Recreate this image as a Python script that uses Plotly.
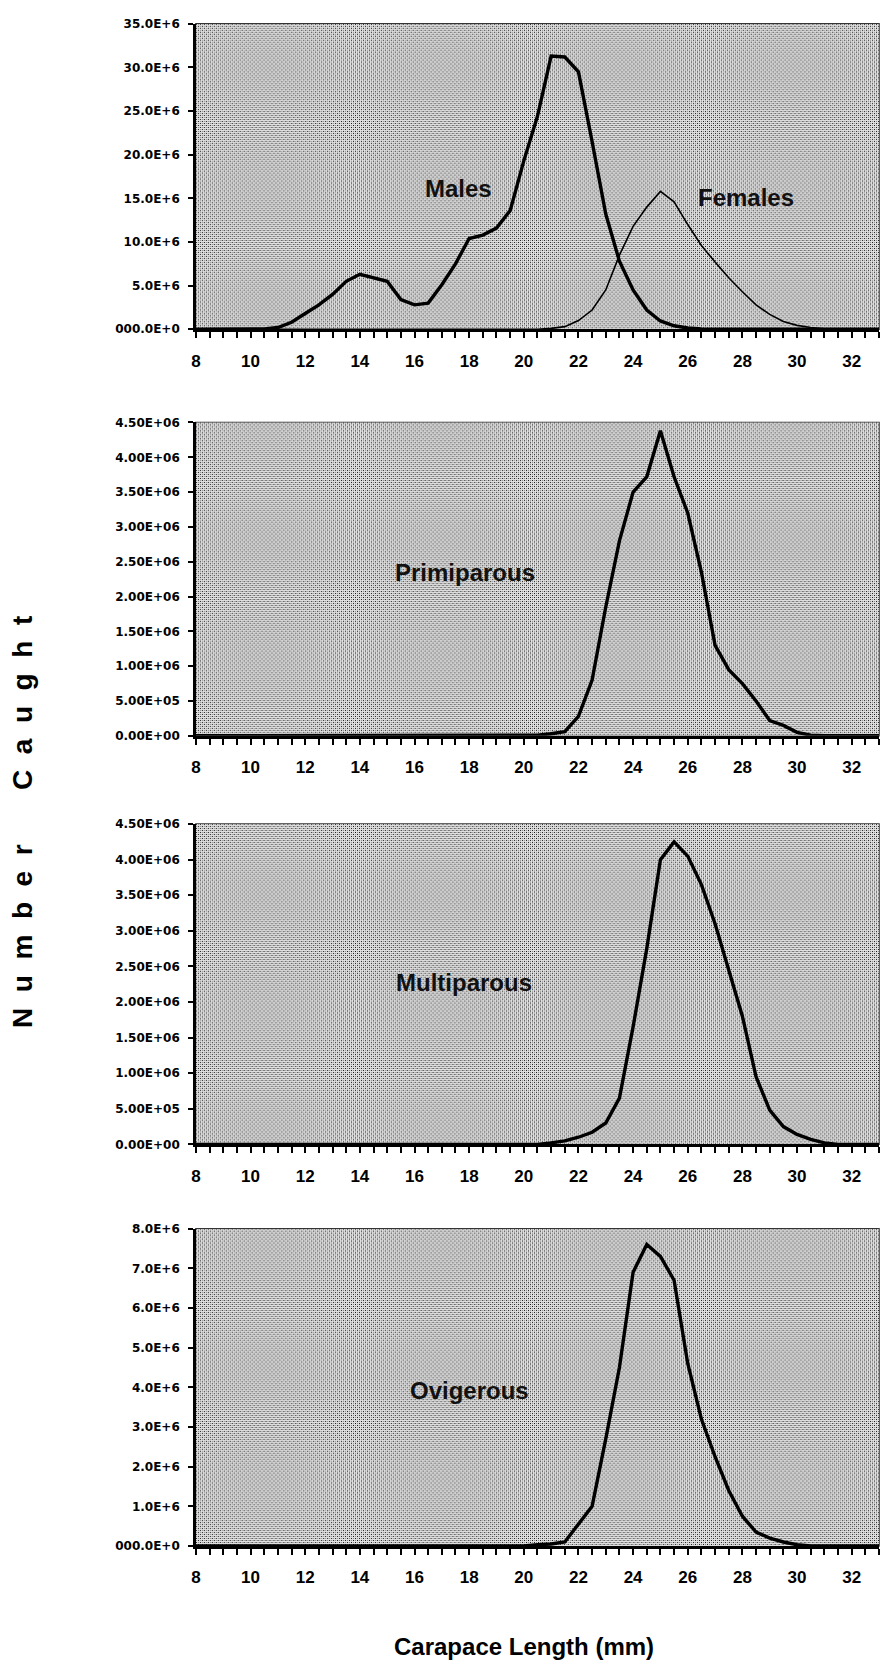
import base64
import plotly.graph_objects as go

# ---------------- data ----------------
carapace_mm = [8.0, 8.5, 9.0, 9.5, 10.0, 10.5, 11.0, 11.5, 12.0, 12.5,
               13.0, 13.5, 14.0, 14.5, 15.0, 15.5, 16.0, 16.5, 17.0, 17.5,
               18.0, 18.5, 19.0, 19.5, 20.0, 20.5, 21.0, 21.5, 22.0, 22.5,
               23.0, 23.5, 24.0, 24.5, 25.0, 25.5, 26.0, 26.5, 27.0, 27.5,
               28.0, 28.5, 29.0, 29.5, 30.0, 30.5, 31.0, 31.5, 32.0, 32.5, 33.0]

males = [0, 0, 0, 0, 0, 0.05e6, 0.2e6, 0.8e6, 1.8e6, 2.8e6,
         4.0e6, 5.5e6, 6.3e6, 5.9e6, 5.5e6, 3.4e6, 2.8e6, 3.0e6, 5.1e6, 7.5e6,
         10.4e6, 10.8e6, 11.6e6, 13.6e6, 19.3e6, 24.4e6, 31.3e6, 31.2e6, 29.5e6, 21.5e6,
         13.2e6, 7.8e6, 4.5e6, 2.2e6, 0.95e6, 0.4e6, 0.15e6, 0.05e6, 0, 0,
         0, 0, 0, 0, 0, 0, 0, 0, 0, 0, 0]

females = [0, 0, 0, 0, 0, 0, 0, 0, 0, 0,
           0, 0, 0, 0, 0, 0, 0, 0, 0, 0,
           0, 0, 0, 0, 0, 0, 0.1e6, 0.3e6, 1.0e6, 2.2e6,
           4.5e6, 8.5e6, 11.8e6, 14.0e6, 15.8e6, 14.6e6, 12.0e6, 9.6e6, 7.7e6, 5.9e6,
           4.3e6, 2.8e6, 1.7e6, 0.9e6, 0.45e6, 0.2e6, 0.05e6, 0, 0, 0, 0]

primiparous = [0, 0, 0, 0, 0, 0, 0, 0, 0, 0,
               0, 0, 0, 0, 0, 0, 0, 0, 0, 0,
               0, 0, 0, 0, 0, 0.01e6, 0.03e6, 0.06e6, 0.28e6, 0.8e6,
               1.85e6, 2.8e6, 3.5e6, 3.72e6, 4.38e6, 3.72e6, 3.2e6, 2.35e6, 1.3e6, 0.95e6,
               0.75e6, 0.5e6, 0.22e6, 0.15e6, 0.05e6, 0.01e6, 0, 0, 0, 0, 0]

multiparous = [0, 0, 0, 0, 0, 0, 0, 0, 0, 0,
               0, 0, 0, 0, 0, 0, 0, 0, 0, 0,
               0, 0, 0, 0, 0, 0, 0.02e6, 0.05e6, 0.1e6, 0.17e6,
               0.3e6, 0.65e6, 1.65e6, 2.75e6, 4.0e6, 4.25e6, 4.05e6, 3.65e6, 3.1e6, 2.45e6,
               1.8e6, 0.95e6, 0.48e6, 0.25e6, 0.14e6, 0.07e6, 0.02e6, 0, 0, 0, 0]

ovigerous = [0, 0, 0, 0, 0, 0, 0, 0, 0, 0,
             0, 0, 0, 0, 0, 0, 0, 0, 0, 0,
             0, 0, 0, 0, 0, 0.03e6, 0.05e6, 0.1e6, 0.55e6, 1.0e6,
             2.7e6, 4.5e6, 6.9e6, 7.6e6, 7.3e6, 6.7e6, 4.6e6, 3.2e6, 2.25e6, 1.4e6,
             0.75e6, 0.35e6, 0.2e6, 0.1e6, 0.03e6, 0, 0, 0, 0, 0, 0]

x_tick_vals = [8, 10, 12, 14, 16, 18, 20, 22, 24, 26, 28, 30, 32]
x_tick_text = ["8", "10", "12", "14", "16", "18", "20", "22", "24", "26", "28", "30", "32"]

y1_tick_vals = [0, 5e6, 10e6, 15e6, 20e6, 25e6, 30e6, 35e6]
y1_tick_text = ["000.0E+0", "5.0E+6", "10.0E+6", "15.0E+6", "20.0E+6", "25.0E+6", "30.0E+6", "35.0E+6"]
y23_tick_vals = [0, 0.5e6, 1.0e6, 1.5e6, 2.0e6, 2.5e6, 3.0e6, 3.5e6, 4.0e6, 4.5e6]
y23_tick_text = ["0.00E+00", "5.00E+05", "1.00E+06", "1.50E+06", "2.00E+06", "2.50E+06",
                 "3.00E+06", "3.50E+06", "4.00E+06", "4.50E+06"]
y4_tick_vals = [0, 1e6, 2e6, 3e6, 4e6, 5e6, 6e6, 7e6, 8e6]
y4_tick_text = ["000.0E+0", "1.0E+6", "2.0E+6", "3.0E+6", "4.0E+6", "5.0E+6", "6.0E+6", "7.0E+6", "8.0E+6"]

# ---------------- layout helpers ----------------
W, H = 881, 1666
X0, X1 = 192, 879
panel_px = [(17, 325), (419, 735), (824, 1147), (1232, 1552)]
y_ranges = [[0, 35e6], [0, 4.5e6], [0, 4.5e6], [0, 8e6]]
y_ticks = [(y1_tick_vals, y1_tick_text), (y23_tick_vals, y23_tick_text),
           (y23_tick_vals, y23_tick_text), (y4_tick_vals, y4_tick_text)]

series = [
    [(males, 3.4), (females, 1.6)],
    [(primiparous, 3.4)],
    [(multiparous, 3.4)],
    [(ovigerous, 3.4)],
]

labels = [
    [("Males", 17.6, 16.1e6), ("Females", 28.15, 15.1e6)],
    [("Primiparous", 17.85, 2.34e6)],
    [("Multiparous", 17.8, 2.28e6)],
    [("Ovigerous", 18.0, 3.92e6)],
]


def sfx(n):
    return "" if n == 1 else str(n)


def stipple_uri(w, h):
    svg = (
        f"<svg xmlns='http://www.w3.org/2000/svg' width='{w}' height='{h}' "
        f"viewBox='0 0 {w} {h}' shape-rendering='crispEdges'>"
        "<defs><pattern id='p' width='4' height='4' patternUnits='userSpaceOnUse'>"
        "<rect width='4' height='4' fill='#e0e0e0'/>"
        "<rect x='0' y='0' width='1' height='1' fill='#141414'/>"
        "<rect x='2' y='2' width='1' height='1' fill='#141414'/>"
        "<rect x='2' y='0' width='1' height='1' fill='#888888'/>"
        "<rect x='0' y='2' width='1' height='1' fill='#888888'/>"
        "</pattern></defs>"
        f"<rect width='{w}' height='{h}' fill='url(#p)'/></svg>"
    )
    return "data:image/svg+xml;base64," + base64.b64encode(svg.encode()).decode()


BG = "#bcbcbc"
fig = go.Figure()

xdom = [X0 / W, X1 / W]
for i in range(4):
    n = i + 1
    s = sfx(n)
    top, bot = panel_px[i]
    ydom = [1 - bot / H, 1 - top / H]
    for vals, lw in series[i]:
        fig.add_trace(go.Scatter(
            x=carapace_mm, y=vals, mode="lines",
            line=dict(color="black", width=lw, shape="linear"),
            xaxis=f"x{s}", yaxis=f"y{s}", showlegend=False, hoverinfo="skip"))

    tv, tt = y_ticks[i]
    fig.update_layout(**{
        f"xaxis{s}": dict(
            domain=xdom, anchor=f"y{s}", range=[8, 33],
            tickmode="array", tickvals=x_tick_vals, ticktext=x_tick_text,
            ticks="outside", ticklen=6, tickwidth=1.5, tickcolor="black",
            minor=dict(tickmode="linear", tick0=8, dtick=0.5, ticks="outside",
                       ticklen=6, tickwidth=1.5, tickcolor="black"),
            showline=True, linewidth=3, linecolor="black",
            showgrid=False, zeroline=False, fixedrange=True,
            tickfont=dict(family="Liberation Sans", size=17, color="black", weight="bold"),
            ticklabelstandoff=8),
        f"yaxis{s}": dict(
            domain=ydom, anchor=f"x{s}", range=y_ranges[i],
            tickmode="array", tickvals=tv, ticktext=tt,
            ticks="outside", ticklen=5, tickwidth=1.5, tickcolor="black",
            showline=True, linewidth=2.5, linecolor="black",
            showgrid=False, zeroline=False, fixedrange=True,
            tickfont=dict(family="DejaVu Sans", size=12, color="black", weight="bold"),
            ticklabelstandoff=6),
        f"xaxis{n + 4}": dict(
            overlaying=f"x{s}", anchor=f"y{s}", side="bottom", range=[8, 33],
            tickmode="linear", tick0=8, dtick=0.5, ticks="inside", ticklen=3,
            tickwidth=1.5, tickcolor="black", showticklabels=False,
            showline=False, showgrid=False, zeroline=False, fixedrange=True),
        f"yaxis{n + 4}": dict(
            overlaying=f"y{s}", anchor=f"x{s}", side="left", range=y_ranges[i],
            tickmode="array", tickvals=tv, ticks="inside", ticklen=3,
            tickwidth=1.5, tickcolor="black", showticklabels=False,
            showline=False, showgrid=False, zeroline=False, fixedrange=True),
    })
    # stippled plot-area background
    fig.add_layout_image(dict(
        source=stipple_uri(X1 - X0, int(bot - top)),
        xref=f"x{s} domain", yref=f"y{s} domain", x=0, y=1, sizex=1, sizey=1,
        xanchor="left", yanchor="top", sizing="stretch", layer="below"))
    # thin frame on top / right edges of the plot area
    fig.add_shape(type="rect", xref=f"x{s} domain", yref=f"y{s} domain",
                  x0=0, x1=1, y0=0, y1=1, line=dict(color="#333333", width=1.5),
                  layer="below")
    for txt, lx, ly in labels[i]:
        fig.add_annotation(text=txt, x=lx, y=ly, xref=f"x{s}", yref=f"y{s}",
                           showarrow=False, xanchor="center", yanchor="middle",
                           font=dict(family="Liberation Sans", size=24, color="#111111",
                                     weight="bold"))

nb = "\u00a0"
ytitle = (nb * 2).join("Number") + nb * 7 + (nb * 2).join("Caught")
fig.add_annotation(text=ytitle, x=17 / W, y=1 - 822 / H, xref="paper", yref="paper",
                   xanchor="center", yanchor="middle",
                   textangle=-90, showarrow=False,
                   font=dict(family="Liberation Sans", size=28, color="black", weight="bold"))
fig.add_annotation(text="Carapace Length (mm)", x=522 / W, y=1 - 1653 / H,
                   xref="paper", yref="paper", showarrow=False,
                   xanchor="center", yanchor="middle",
                   font=dict(family="Liberation Sans", size=24, color="black", weight="bold"))

fig.update_layout(width=W, height=H, margin=dict(l=0, r=0, t=0, b=0),
                  paper_bgcolor="white", plot_bgcolor=BG, showlegend=False)

fig.write_html("out.html",
               config={"displayModeBar": False},
               post_script="document.body.style.margin='0';"
                           "document.body.style.padding='0';"
                           "document.documentElement.style.overflow='hidden';")
